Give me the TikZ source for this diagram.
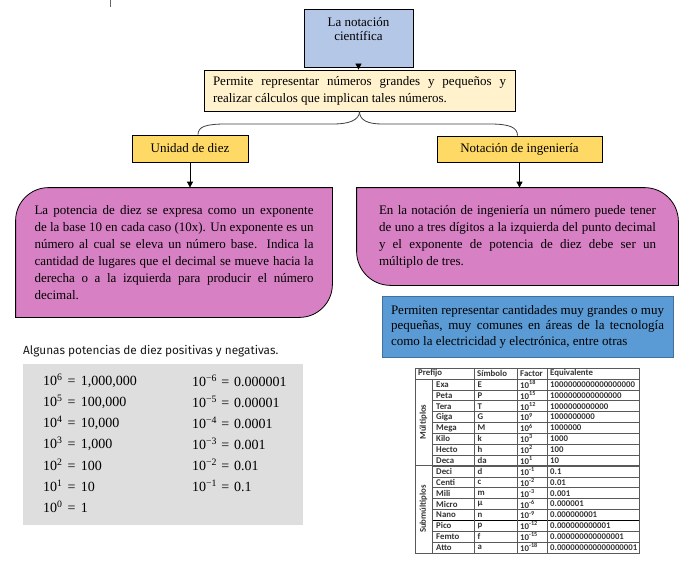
\documentclass[tikz,border=0pt]{standalone}
\usepackage{fontspec}
\setmainfont{Liberation Serif}
\newfontfamily\titlefont{Fira Sans}
\newfontfamily\tabfont{Carlito}
\usepackage{tikz}
\usetikzlibrary{arrows.meta,backgrounds}

\definecolor{skyblue}{RGB}{180,199,231}
\definecolor{cream}{RGB}{255,242,204}
\definecolor{gold}{RGB}{255,217,102}
\definecolor{orchid}{RGB}{216,128,196}
\definecolor{steel}{RGB}{91,155,213}
\definecolor{steeldark}{RGB}{65,113,156}
\definecolor{panel}{RGB}{222,222,222}

\begin{document}
\begin{tikzpicture}[x=1pt,y=-1pt,>={Triangle[length=6pt,width=6pt]}]
        \tikzstyle{every node} = [rectangle, inner sep=0pt]
        \tikzstyle{box} = [draw=black, line width=0.8pt, font=\fontsize{13}{17}\selectfont]
        \tikzstyle{pinkshape} = [draw=black, line width=0.8pt, fill=orchid]
        \tikzstyle{powr} = [anchor=west, font=\fontsize{14}{16}\selectfont]
        \tikzstyle{cell} = [anchor=west, font=\tabfont\bfseries\fontsize{8.8}{10}\selectfont, text=black!80]
        \tikzstyle{grid} = [draw=black!65, line width=0.7pt]
        \useasboundingbox (0,0) rectangle (692,564);
        \draw[black!60] (110,0) -- (110,7);

        % mapa conceptual
        \node[box, fill=skyblue, minimum width=109, minimum height=58, align=center, text depth=19pt, font=\fontsize{13}{14}\selectfont] (sci) at (358.5,38) {La notación\\científica};
        \node[box, fill=cream, minimum width=311, minimum height=41, text width=293, align=justify] (perm) at (359.5,90.5) {Permite representar números grandes y pequeños y\linebreak realizar cálculos que implican tales números.};
        \node[box, fill=gold, minimum width=116, minimum height=27] (unid) at (190,148.5) {Unidad de diez};
        \node[box, fill=gold, minimum width=165, minimum height=26] (ing) at (519.5,149) {Notación de ingeniería};
        \node[box, draw=none, minimum width=316, minimum height=129, text width=279, align=justify] (pl) at (174,252.5) {La potencia de diez se expresa como un exponente\linebreak de la base 10 en cada caso (10x). Un exponente es un\linebreak número al cual se eleva un número base. Indica la\linebreak cantidad de lugares que el decimal se mueve hacia la\linebreak derecha o a la izquierda para producir el número\linebreak decimal.};
        \node[box, draw=none, minimum width=321, minimum height=97, text width=277, align=justify] (pr) at (517.5,236.5) {En la notación de ingeniería un número puede tener\linebreak de uno a tres dígitos a la izquierda del punto decimal\linebreak y el exponente de potencia de diez debe ser un\linebreak múltiplo de tres.};
        \node[box, draw=steeldark, fill=steel, minimum width=291, minimum height=61, text width=273, align=justify, font=\fontsize{13}{15.5}\selectfont] (blue) at (527.5,326.5) {Permiten representar cantidades muy grandes o muy\linebreak pequeñas, muy comunes en áreas de la tecnología\linebreak como la electricidad y electrónica, entre otras};
        \begin{scope}[on background layer]
            \draw[pinkshape] (pl.south west) -- ([yshift=-33pt]pl.north west) arc[start angle=180, end angle=90, radius=33pt] -- (pl.north east) -- ([yshift=33pt]pl.south east) arc[start angle=0, end angle=-90, radius=33pt] -- cycle;
            \draw[pinkshape] (pr.north west) -- ([xshift=-34pt]pr.north east) arc[start angle=90, end angle=0, radius=34pt] -- (pr.south east) -- ([xshift=34pt]pr.south west) arc[start angle=270, end angle=180, radius=34pt] -- cycle;
        \end{scope}
        \foreach \from/\to in {sci/perm, unid/pl, ing/pr}
            \draw[->, line width=0.8pt] (\from.south) -- (\from.south |- \to.north);
        \draw[black!75, line width=0.8pt] (perm.south) .. controls +(0,9) and +(14,0) .. (334,124) -- (226,124) .. controls +(-20,0) and +(0,-8) .. ([xshift=8pt]unid.north);
        \draw[black!75, line width=0.8pt] (perm.south) .. controls +(0,9) and +(-14,0) .. (382,124) -- (490,124) .. controls +(20,0) and +(0,-8) .. ([xshift=-2pt]ing.north);

        % potencias de diez
        \node[anchor=west, font=\titlefont\fontsize{11.8}{14}\selectfont, text=black!90] (ttl) at (23,351) {Algunas potencias de diez positivas y negativas.};
        \node[fill=panel, minimum width=280, minimum height=161] (gray) at (163,444.5) {};
        \foreach \e/\v [count=\i] in {6/{1,000,000},5/{100,000},4/{10,000},3/{1,000},2/100,1/10,0/1}
            \node[powr] (pos\i) at (43,360+21*\i) {10\textsuperscript{\e}\hspace{0.35em}=\hspace{0.4em}\v};
        \foreach \e/\v [count=\i] in {6/0.000001,5/0.00001,4/0.0001,3/0.001,2/0.01,1/0.1}
            \node[powr] (neg\i) at (192,360+21*\i) {10\textsuperscript{−\e}\hspace{0.3em}=\hspace{0.35em}\v};

        % tabla de prefijos
        \draw[grid] (415,368) rectangle (639,553);
        \foreach \i in {1,...,15}
            \draw[grid] (432,379+10.875*\i) -- (639,379+10.875*\i);
        \foreach \y in {379,465}
            \draw[grid] (415,\y) -- (639,\y);
        \draw[black, line width=0.8pt] (432,520.4) -- (639,520.4);
        \draw[grid] (432,379) -- (432,553);
        \foreach \x in {474,517,547}
            \draw[grid] (\x,368) -- (\x,553);
        \node[cell] (hpre) at (418,373.5) {Prefijo};
        \node[cell] (hsym) at (477,373.5) {Símbolo};
        \node[cell] (hfac) at (520,373.5) {Factor};
        \node[cell] (hequ) at (550,373.5) {Equivalente};
        \node[cell, anchor=center, rotate=90] (mul) at (423.5,422) {Múltiplos};
        \node[cell, anchor=center, rotate=90] (sub) at (423.5,509) {Submúltiplos};
        \foreach \pre/\sym/\ex/\val [count=\i] in {Exa/E/18/1000000000000000000, Peta/P/15/1000000000000000, Tera/T/12/1000000000000, Giga/G/9/1000000000, Mega/M/6/1000000, Kilo/k/3/1000, Hecto/h/2/100, Deca/da/1/10, Deci/d/-1/0.1, Centi/c/-2/0.01, Mili/m/-3/0.001, Micro/µ/-6/0.000001, Nano/n/-9/0.000000001, Pico/p/-12/0.000000000001, Femto/f/-15/0.000000000000001, Atto/a/-18/0.000000000000000001}
        {
            \node[cell] (pre\i) at (436,373.56+10.875*\i) {\pre};
            \node[cell] (sym\i) at (477.5,373.56+10.875*\i) {\sym};
            \node[cell] (fac\i) at (520,373.56+10.875*\i) {10\textsuperscript{\ex}};
            \node[cell] (val\i) at (550,373.56+10.875*\i) {\val};
        }
    \end{tikzpicture}
\end{document}
